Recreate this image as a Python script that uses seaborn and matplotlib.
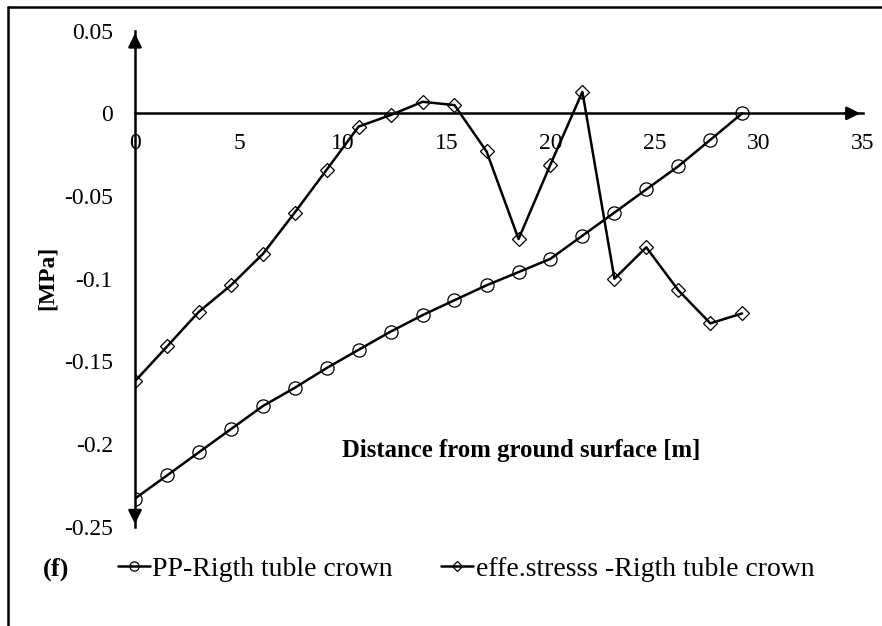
import numpy as np
import pandas as pd
import seaborn as sns
import matplotlib.pyplot as plt
from matplotlib.lines import Line2D
from matplotlib.ticker import MultipleLocator, FuncFormatter

# podaci ocitani sa slike
distance = [0, 1.54, 3.07, 4.61, 6.15, 7.68, 9.22, 10.75, 12.29, 13.83,
            15.36, 16.9, 18.44, 19.97, 21.51, 23.05, 24.58, 26.12, 27.66, 29.19]
pp_crown = [-0.233, -0.219, -0.205, -0.191, -0.177, -0.166, -0.154, -0.143, -0.132, -0.122,
            -0.113, -0.104, -0.096, -0.088, -0.074, -0.060, -0.046, -0.032, -0.016, 0.0]
eff_crown = [-0.162, -0.141, -0.120, -0.104, -0.085, -0.060, -0.034, -0.008, -0.001, 0.007,
             0.005, -0.023, -0.076, -0.031, 0.013, -0.100, -0.081, -0.107, -0.127, -0.121]
labels = ['PP-Rigth tuble crown', 'effe.stresss -Rigth tuble crown']

sns.set_style('white')
plt.rcParams['font.family'] = ['Liberation Serif', 'DejaVu Serif']
plt.rcParams['axes.unicode_minus'] = False
plt.rcParams['text.color'] = 'black'
plt.rcParams['axes.labelcolor'] = 'black'

W, H = 882, 626
fig = plt.figure(figsize=(W / 100, H / 100), dpi=100)
ax = fig.add_axes([135 / W, 99.3 / H, 728 / W, 496 / H])

df = pd.DataFrame({'x': distance, 'pp': pp_crown, 'eff': eff_crown})

sns.lineplot(data=df, x='x', y='pp', ax=ax, color='black', lw=1.8, marker='o', ms=9.5,
             mfc='none', mec='black', mew=0.9, label=labels[0], sort=False)
sns.lineplot(data=df, x='x', y='eff', ax=ax, color='black', lw=1.8, marker='D', ms=7.5,
             mfc='none', mec='black', mew=0.9, label=labels[1], sort=False)

# osi kroz nulu
ax.set_xlim(0, 35)
ax.set_ylim(-0.25, 0.05)
for s in ['top', 'right']:
    ax.spines[s].set_visible(False)
ax.spines['left'].set_position(('data', 0))
ax.spines['bottom'].set_position(('data', 0))
for s in ['left', 'bottom']:
    ax.spines[s].set_linewidth(1.8)
    ax.spines[s].set_color('black')

ax.xaxis.set_major_locator(MultipleLocator(5))
ax.xaxis.set_minor_locator(MultipleLocator(1))
ax.yaxis.set_major_locator(MultipleLocator(0.05))
ax.yaxis.set_minor_locator(MultipleLocator(0.01))


def fmt(v, pos):
    v = round(v, 3)
    if abs(v) < 1e-9:
        return '0'
    return f'{v:g}'


ax.yaxis.set_major_formatter(FuncFormatter(fmt))
ax.xaxis.set_major_formatter(FuncFormatter(fmt))

ax.tick_params(which='major', direction='inout', length=10, width=1.4, labelsize=17,
               pad=11, colors='black')
ax.tick_params(axis='x', which='minor', direction='out', length=3.5, width=1.2, colors='black')
ax.tick_params(axis='y', which='minor', direction='in', length=4, width=1.2, colors='black')
ax.tick_params(axis='y', which='major', pad=11)
ax.tick_params(axis='x', which='major', pad=9)

# strelice na krajevima osi
arr = dict(arrowstyle='-|>', color='black', lw=1.8, mutation_scale=20)
ax.annotate('', xy=(35, 0), xytext=(34, 0), arrowprops=arr)
ax.annotate('', xy=(0, 0.05), xytext=(0, 0.04), arrowprops=arr)
ax.annotate('', xy=(0, -0.25), xytext=(0, -0.24), arrowprops=arr)

ax.set_xlabel('')
ax.set_ylabel('')
fig.text(47 / W, 1 - 278 / H, '[MPa]', rotation=90, fontsize=17, fontweight='bold',
         ha='center', va='center')
fig.text(521 / W, 1 - 450 / H, 'Distance from ground surface [m]', fontsize=17.8,
         fontweight='bold', ha='center', va='center')
fig.text(43 / W, 1 - 569 / H, '(f)', fontsize=19, fontweight='bold', ha='left', va='center')

ax.legend(loc='center left', bbox_to_anchor=(118 / W, 1 - 569 / H),
          bbox_transform=fig.transFigure, ncol=2, frameon=False, fontsize=20,
          borderpad=0, handlelength=1.15, handletextpad=0.08, columnspacing=1.75,
          markerscale=0.7, borderaxespad=0)

# okvir slike (samo gore i lijevo)
fig.add_artist(Line2D([8 / W, 1], [1 - 7 / H, 1 - 7 / H], color='black', lw=1.8,
                      transform=fig.transFigure))
fig.add_artist(Line2D([8 / W, 8 / W], [0, 1 - 7 / H], color='black', lw=1.8,
                      transform=fig.transFigure))

fig.savefig('out.png', dpi=100)
